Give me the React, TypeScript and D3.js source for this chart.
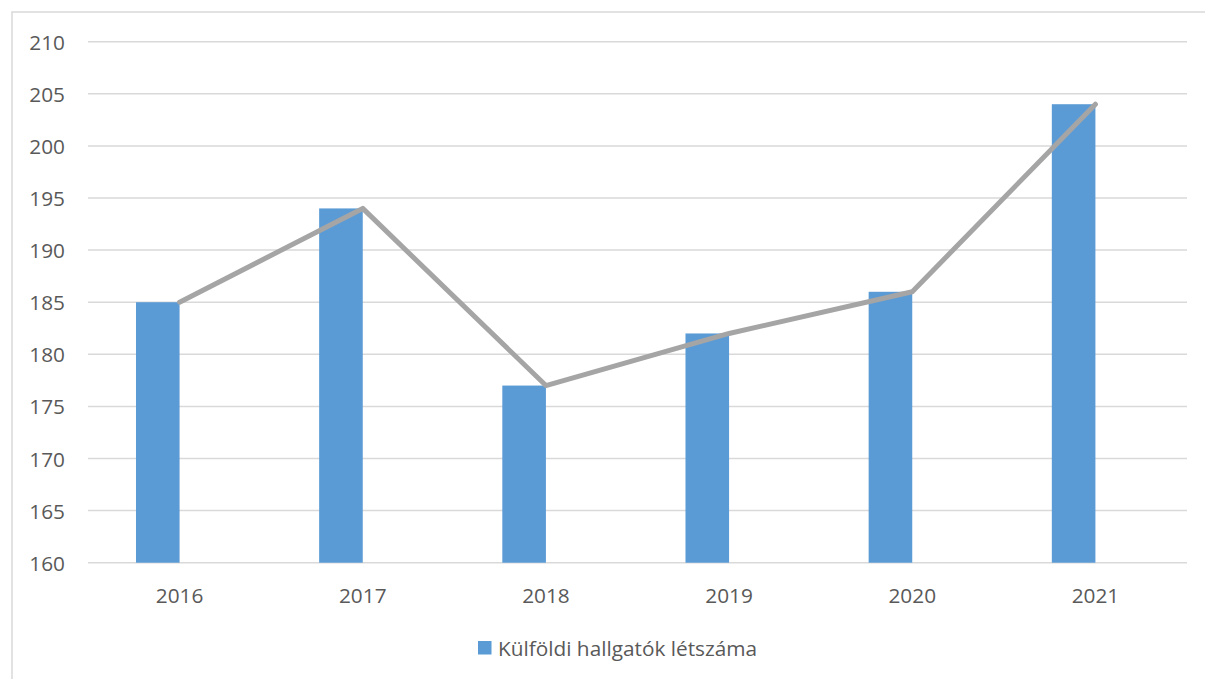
import React from "react";
import * as d3 from "d3";

const categories = ["2016", "2017", "2018", "2019", "2020", "2021"];
const values = [185, 194, 177, 182, 186, 204];
const yTicks = [160, 165, 170, 175, 180, 185, 190, 195, 200, 205, 210];
const seriesName = "Külföldi hallgatók létszáma";

export default function App() {
  const W = 1205, H = 679;
  const left = 88, right = 1187, top = 41.7, bottom = 562.7;
  const x = d3.scaleBand<string>().domain(categories).range([left, right]).padding(0);
  const y = d3.scaleLinear().domain([160, 210]).range([bottom, top]);
  const barW = 43.6;
  const font = "'Open Sans', 'Liberation Sans', sans-serif";
  const fs = 20.8;
  const line = d3
    .line<number>()
    .x((_, i) => (x(categories[i]) as number) + x.bandwidth() / 2)
    .y((d) => y(d));

  return (
    <svg
      width={W}
      height={H}
      style={{ position: "absolute", left: 0, top: 0, background: "#fff" }}
    >
      <rect x={12} y={12} width={W} height={H} fill="#fff" stroke="#D9D9D9" strokeWidth={1.5} />
      {yTicks.map((t) => (
        <g key={t}>
          <line x1={left} x2={right} y1={y(t)} y2={y(t)} stroke="#D9D9D9" strokeWidth={1.5} />
          <text
            x={65}
            y={y(t)}
            textAnchor="end"
            dominantBaseline="central"
            fontFamily={font}
            fontSize={fs}
            fill="#595959"
          >
            {t}
          </text>
        </g>
      ))}
      {categories.map((c, i) => {
        const cx = (x(c) as number) + x.bandwidth() / 2;
        return (
          <g key={c}>
            <rect
              x={cx - barW}
              y={y(values[i])}
              width={barW}
              height={y(160) - y(values[i])}
              fill="#5B9BD5"
            />
            <text
              x={cx}
              y={595}
              textAnchor="middle"
              dominantBaseline="central"
              fontFamily={font}
              fontSize={fs}
              fill="#595959"
            >
              {c}
            </text>
          </g>
        );
      })}
      <path
        d={line(values) || ""}
        fill="none"
        stroke="#A5A5A5"
        strokeWidth={5}
        strokeLinecap="round"
        strokeLinejoin="round"
      />
      <rect x={478} y={641} width={13.5} height={13.5} fill="#5B9BD5" />
      <text
        x={498}
        y={648}
        dominantBaseline="central"
        fontFamily={font}
        fontSize={fs}
        fill="#595959"
      >
        {seriesName}
      </text>
    </svg>
  );
}
